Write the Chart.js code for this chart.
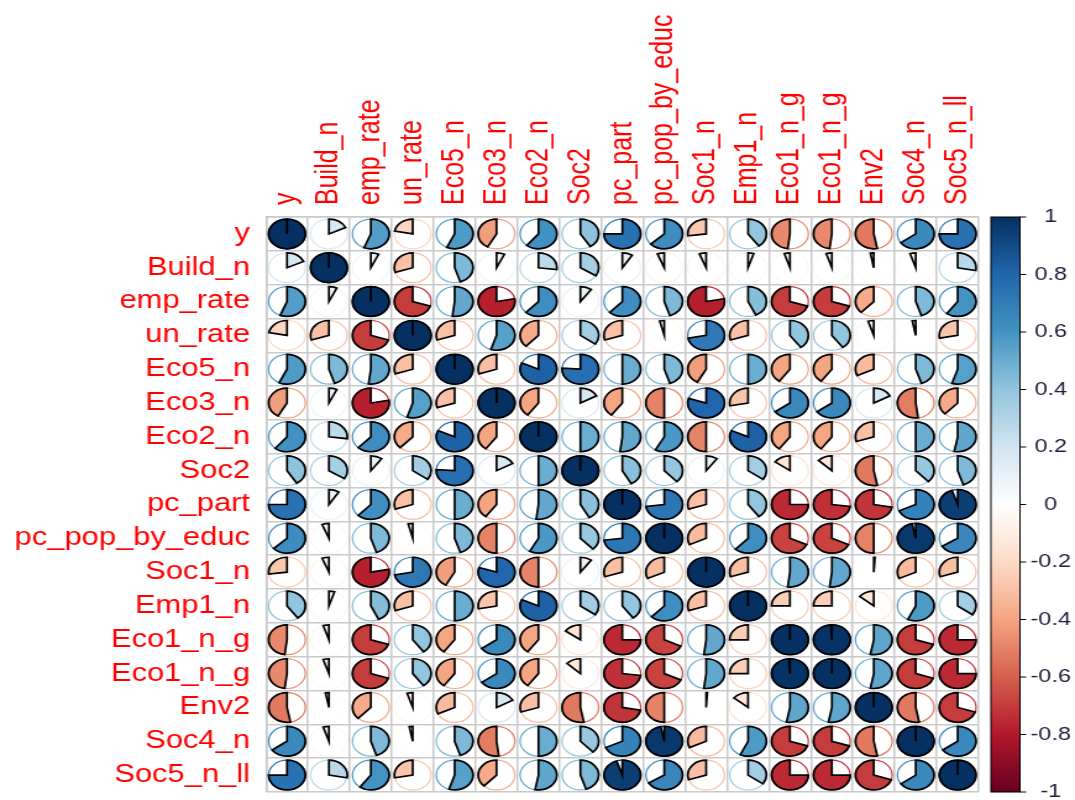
<!DOCTYPE html>
<html>
<head>
<meta charset="utf-8">
<script src="https://cdn.jsdelivr.net/npm/chart.js@4.4.1/dist/chart.umd.min.js"></script>
<style>
  html, body { margin: 0; padding: 0; background: #ffffff; overflow: hidden; }
  /* the plot is drawn on a square-celled canvas and widened to the page */
  #wrap { width: 870px; height: 800px; transform: scaleX(1.2356); transform-origin: 0 0; }
</style>
</head>
<body>
<div id="wrap"><canvas id="c" width="870" height="800"></canvas></div>
<script>
// Variable names (rows top to bottom, columns left to right)
const varNames = ['y', 'Build_n', 'emp_rate', 'un_rate', 'Eco5_n', 'Eco3_n', 'Eco2_n', 'Soc2',
  'pc_part', 'pc_pop_by_educ', 'Soc1_n', 'Emp1_n', 'Eco1_n_g', 'Eco1_n_g', 'Env2', 'Soc4_n', 'Soc5_n_ll'];

// Correlation matrix, one row per variable
const corr = [
  [ 1.00,  0.18,  0.56, -0.22,  0.57, -0.42,  0.61,  0.41,  0.75,  0.63, -0.27,  0.40, -0.48, -0.48, -0.53,  0.65,  0.75],
  [ 0.18,  1.00,  0.07, -0.30,  0.45,  0.07,  0.27,  0.34,  0.09, -0.06, -0.06,  0.05, -0.05, -0.05, -0.03, -0.05,  0.28],
  [ 0.56,  0.07,  1.00, -0.70,  0.52, -0.78,  0.62,  0.10,  0.62,  0.45, -0.78,  0.43, -0.70, -0.70, -0.38,  0.45,  0.60],
  [-0.22, -0.30, -0.70,  1.00, -0.30,  0.55, -0.38,  0.35, -0.30, -0.04,  0.72, -0.30,  0.40,  0.40, -0.05, -0.03, -0.28],
  [ 0.57,  0.45,  0.52, -0.30,  1.00, -0.30,  0.82,  0.76,  0.50,  0.45, -0.42,  0.50, -0.40, -0.40, -0.32,  0.45,  0.55],
  [-0.42,  0.07, -0.78,  0.55, -0.30,  1.00, -0.40,  0.17, -0.40, -0.50,  0.80, -0.28,  0.65,  0.65,  0.17, -0.52, -0.38],
  [ 0.61,  0.27,  0.62, -0.38,  0.82, -0.40,  1.00,  0.50,  0.52,  0.58, -0.50,  0.82, -0.40, -0.40, -0.30,  0.50,  0.53],
  [ 0.41,  0.34,  0.10,  0.35,  0.76,  0.17,  0.50,  1.00,  0.42,  0.38,  0.10,  0.35, -0.15, -0.13, -0.53,  0.38,  0.45],
  [ 0.75,  0.09,  0.62, -0.30,  0.50, -0.40,  0.52,  0.42,  1.00,  0.73, -0.30,  0.40, -0.75, -0.73, -0.72,  0.68,  0.95],
  [ 0.63, -0.06,  0.45, -0.04,  0.45, -0.50,  0.58,  0.38,  0.73,  1.00, -0.32,  0.62, -0.68, -0.68, -0.50,  0.97,  0.66],
  [-0.27, -0.06, -0.78,  0.72, -0.42,  0.80, -0.50,  0.10, -0.30, -0.32,  1.00, -0.30,  0.52,  0.52,  0.01, -0.32, -0.30],
  [ 0.40,  0.05,  0.43, -0.30,  0.50, -0.28,  0.82,  0.35,  0.40,  0.62, -0.30,  1.00, -0.25, -0.25, -0.14,  0.57,  0.35],
  [-0.48, -0.05, -0.70,  0.40, -0.40,  0.65, -0.40, -0.15, -0.75, -0.68,  0.52, -0.25,  1.00,  0.99,  0.53, -0.70, -0.75],
  [-0.48, -0.05, -0.70,  0.40, -0.40,  0.65, -0.40, -0.13, -0.73, -0.68,  0.52, -0.25,  0.99,  1.00,  0.53, -0.70, -0.75],
  [-0.53, -0.03, -0.38, -0.05, -0.32,  0.17, -0.30, -0.53, -0.72, -0.50,  0.01, -0.14,  0.53,  0.53,  1.00, -0.53, -0.70],
  [ 0.65, -0.05,  0.45, -0.03,  0.45, -0.52,  0.50,  0.38,  0.68,  0.97, -0.32,  0.57, -0.70, -0.70, -0.53,  1.00,  0.65],
  [ 0.75,  0.28,  0.60, -0.28,  0.55, -0.38,  0.53,  0.45,  0.95,  0.66, -0.30,  0.35, -0.75, -0.75, -0.70,  0.65,  1.00]
];

// Colour legend ticks
const legendTicks = [-1, -0.8, -0.6, -0.4, -0.2, 0, 0.2, 0.4, 0.6, 0.8, 1];

// Diverging palette from -1 (dark red) to +1 (dark blue)
const rdbu = ['#67001F', '#B2182B', '#D6604D', '#F4A582', '#FDDBC7', '#FFFFFF',
              '#D1E5F0', '#92C5DE', '#4393C3', '#2166AC', '#053061'];

function hexToRgb(h) {
  return [parseInt(h.slice(1, 3), 16), parseInt(h.slice(3, 5), 16), parseInt(h.slice(5, 7), 16)];
}
function corrColor(v) {
  const t = (Math.max(-1, Math.min(1, v)) + 1) / 2 * (rdbu.length - 1);
  const i = Math.min(Math.floor(t), rdbu.length - 2);
  const f = t - i;
  const a = hexToRgb(rdbu[i]), b = hexToRgb(rdbu[i + 1]);
  const c = a.map((x, k) => Math.round(x + (b[k] - x) * f));
  return `rgb(${c[0]},${c[1]},${c[2]})`;
}

// One point per cell: x = column index, y = row index (category indices)
const points = [];
corr.forEach((row, i) => row.forEach((v, j) => points.push({ x: j, y: i, v })));

const FONT = "'Liberation Sans', Arial, Helvetica, sans-serif";
const GRID = '#c9c9c9';

function noEdgePadding(s) {
  s.paddingTop = 0; s.paddingBottom = 0; s.paddingLeft = 0; s.paddingRight = 0;
}

// Draws each cell as a pie: clockwise for positive, anticlockwise for negative
const piePlugin = {
  id: 'corrPies',
  afterDatasetsDraw(chart) {
    const { ctx, scales: { x, y } } = chart;
    const cw = Math.abs(x.getPixelForValue(1) - x.getPixelForValue(0));
    const ch = Math.abs(y.getPixelForValue(1) - y.getPixelForValue(0));
    const r = 0.44 * Math.min(cw, ch);
    const meta = chart.getDatasetMeta(0);
    ctx.save();
    meta.data.forEach((el, k) => {
      const v = points[k].v;
      const col = corrColor(v);
      const cx = el.x, cy = el.y;
      ctx.beginPath();
      ctx.arc(cx, cy, r, 0, Math.PI * 2);
      ctx.strokeStyle = col;
      ctx.lineWidth = 1.2;
      ctx.stroke();
      const start = -Math.PI / 2;
      const sweep = Math.PI * 2 * Math.abs(v);
      ctx.beginPath();
      ctx.moveTo(cx, cy);
      if (v >= 0) ctx.arc(cx, cy, r, start, start + sweep, false);
      else ctx.arc(cx, cy, r, start, start - sweep, true);
      ctx.closePath();
      ctx.fillStyle = col;
      ctx.fill();
      ctx.strokeStyle = '#000000';
      ctx.lineWidth = 1.7;
      ctx.lineJoin = 'miter';
      ctx.stroke();
    });
    ctx.restore();
  }
};

// Colour bar drawn along the legend scale
const colorbarPlugin = {
  id: 'colorBar',
  afterDraw(chart) {
    const s = chart.scales.cb;
    const { ctx } = chart;
    const top = s.getPixelForValue(1), bottom = s.getPixelForValue(-1);
    const x0 = 802, x1 = 825.5;
    const g = ctx.createLinearGradient(0, top, 0, bottom);
    rdbu.slice().reverse().forEach((c, i) => g.addColorStop(i / (rdbu.length - 1), c));
    ctx.save();
    ctx.fillStyle = g;
    ctx.fillRect(x0, top, x1 - x0, bottom - top);
    ctx.strokeStyle = '#000000';
    ctx.lineWidth = 1;
    ctx.strokeRect(x0, top, x1 - x0, bottom - top);
    ctx.beginPath();
    legendTicks.forEach(t => {
      const py = s.getPixelForValue(t);
      ctx.moveTo(x1, py);
      ctx.lineTo(x1 + 5, py);
    });
    ctx.stroke();
    ctx.restore();
  }
};

new Chart(document.getElementById('c'), {
  type: 'scatter',
  data: {
    datasets: [{
      data: points,
      parsing: false,
      pointRadius: 0,
      pointHoverRadius: 0,
      backgroundColor: points.map(p => corrColor(p.v))
    }]
  },
  options: {
    responsive: false,
    animation: false,
    events: [],
    layout: { padding: { top: 0, left: 0, right: 0, bottom: 8 } },
    plugins: { legend: { display: false }, tooltip: { enabled: false } },
    scales: {
      x: {
        type: 'category',
        labels: varNames,
        position: 'top',
        offset: true,
        grid: { offset: true, color: GRID, lineWidth: 1.5, drawTicks: false },
        border: { color: GRID, width: 1.5 },
        ticks: {
          color: '#ff0000', font: { family: FONT, size: 25 },
          minRotation: 90, maxRotation: 90, autoSkip: false, padding: 12, labelOffset: 30
        },
        afterFit(s) { s.height = 217; noEdgePadding(s); }
      },
      y: {
        type: 'category',
        labels: varNames,
        position: 'left',
        offset: true,
        grid: { offset: true, color: GRID, lineWidth: 1.5, drawTicks: false },
        border: { color: GRID, width: 1.5 },
        ticks: { color: '#ff0000', font: { family: FONT, size: 25 }, autoSkip: false, padding: 13 },
        afterFit(s) { s.width = 215.3; noEdgePadding(s); }
      },
      cb: {
        type: 'linear',
        position: 'right',
        min: -1, max: 1,
        grid: { display: false, drawTicks: false },
        border: { display: false },
        afterBuildTicks(s) { s.ticks = legendTicks.map(v => ({ value: v })); },
        ticks: {
          color: '#202040', font: { family: FONT, size: 19 }, crossAlign: 'center', padding: 42,
          callback: v => String(Math.round(v * 10) / 10)
        },
        afterFit(s) { s.width = 78; noEdgePadding(s); }
      }
    }
  },
  plugins: [piePlugin, colorbarPlugin]
});
</script>
</body>
</html>
